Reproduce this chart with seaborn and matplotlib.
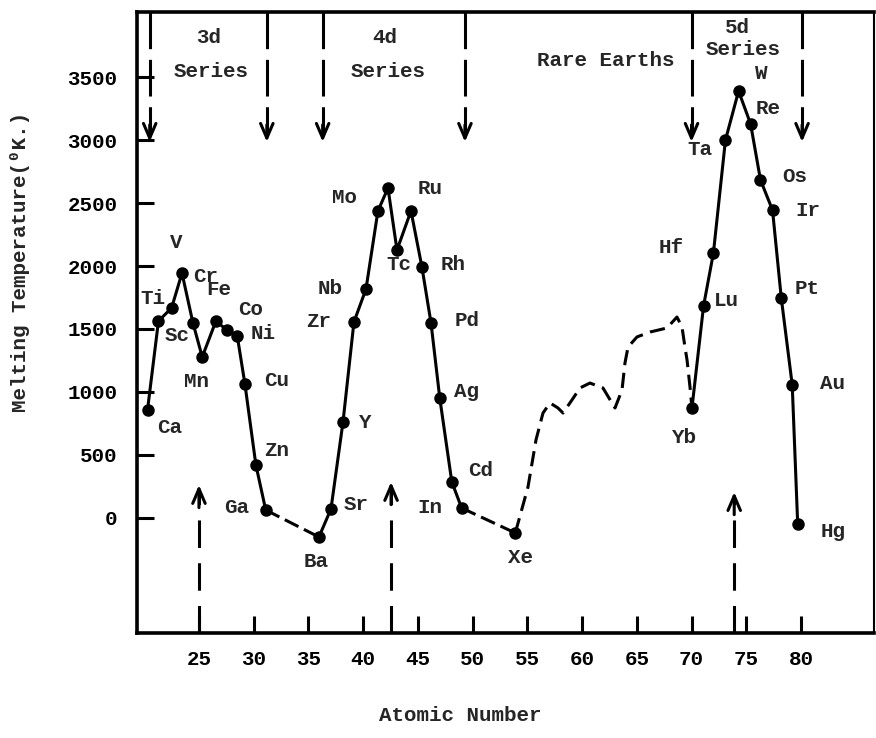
import matplotlib
matplotlib.use("Agg")
import matplotlib.pyplot as plt
import seaborn as sns
import pandas as pd

# 3d series, Ca .. Ga
d3_x = [20.3, 21.3, 22.5, 23.45, 24.45, 25.3, 26.55, 27.55, 28.5, 29.2, 30.2, 31.1]
d3_y = [857, 1563, 1667, 1944, 1548, 1278, 1563, 1492, 1444, 1063, 421, 63]

# Ba, then 4d series Sr .. In
d4_x = [35.96, 37.06, 38.16, 39.16, 40.26, 41.35, 42.27, 43.09, 44.37, 45.37, 46.2, 47.0, 48.1, 49.0]
d4_y = [-151, 71, 762, 1556, 1817, 2437, 2619, 2127, 2437, 1992, 1548, 952, 286, 79]

# Xe
xe_x = [53.9]
xe_y = [-119]

# rare earths (dashed trace, Xe .. Yb)
re_x = [53.9, 55.06, 55.79, 56.43, 57.07, 57.8, 58.26, 59.08, 59.81, 60.72, 61.91, 62.73,
        63.01, 63.65, 63.92, 64.2, 65.02, 66.21, 67.76, 68.67, 69.13, 69.4, 69.59, 69.86, 70.04]
re_y = [-119, 246, 619, 833, 913, 873, 833, 937, 1032, 1071, 1032, 913,
        873, 1016, 1230, 1357, 1437, 1476, 1508, 1595, 1516, 1357, 1254, 1040, 873]

# 5d series, Yb .. Hg
d5_x = [70.04, 71.1, 72.0, 73.1, 74.3, 75.4, 76.3, 77.4, 78.2, 79.2, 79.7]
d5_y = [873, 1683, 2103, 3000, 3389, 3127, 2683, 2444, 1746, 1056, -48]

# element labels as written on the chart
labels = ["Ca", "Ti", "Sc", "V", "Cr", "Fe", "Co", "Ni", "Mn", "Cu", "Zn", "Ga",
          "Ba", "Sr", "Y", "Zr", "Nb", "Mo", "Tc", "Ru", "Rh", "Pd", "Ag", "Cd", "In", "Xe",
          "Yb", "Lu", "Hf", "Ta", "W", "Re", "Os", "Ir", "Pt", "Au", "Hg"]
label_x = [22.3, 20.8, 23.0, 22.9, 25.6, 26.8, 29.7, 30.9, 24.8, 32.1, 32.1, 28.4,
           35.7, 39.4, 40.2, 35.9, 37.0, 38.3, 43.3, 46.1, 48.2, 49.5, 49.4, 50.7, 46.1, 54.4,
           69.4, 73.2, 68.1, 70.8, 76.4, 77.0, 79.4, 80.6, 80.6, 82.9, 82.9]
label_y = [722, 1746, 1452, 2183, 1913, 1810, 1651, 1468, 1087, 1095, 532, 87,
           -349, 103, 754, 1556, 1825, 2540, 2008, 2619, 2008, 1571, 1000, 373, 87, -310,
           635, 1730, 2150, 2921, 3532, 3254, 2714, 2437, 1825, 1071, -111]

# series boundary arrows
down_arrows = [20.5, 31.2, 36.3, 49.3, 70.0, 80.1]
up_arrows = [25.0, 42.55, 73.9]
up_tips = [262, 286, 206]

series_text = ["3d", "Series", "4d", "Series", "Rare Earths", "5d", "Series"]
series_x = [25.9, 26.1, 42.0, 42.3, 62.2, 74.2, 74.7]
series_y = [3817, 3540, 3817, 3540, 3635, 3890, 3715]

xticks = list(range(25, 81, 5))
yticks = list(range(0, 3501, 500))

sns.set_theme(style="ticks")
mono = ["Liberation Mono", "DejaVu Sans Mono"]
plt.rcParams["font.family"] = mono
plt.rcParams["font.size"] = 15
plt.rcParams["font.weight"] = "bold"

fig = plt.figure(figsize=(8.76, 7.38), dpi=100)
ax = fig.add_axes([0.1564, 0.1423, 0.8413, 0.8414])

lw = 2.2
ms = 9
solid = dict(color="black", linewidth=lw, sort=False, estimator=None)

sns.lineplot(x=d3_x, y=d3_y, ax=ax, **solid)
sns.lineplot(x=d4_x, y=d4_y, ax=ax, **solid)
sns.lineplot(x=d5_x, y=d5_y, ax=ax, **solid)
sns.lineplot(x=[d3_x[-1], d4_x[0]], y=[d3_y[-1], d4_y[0]], ax=ax,
             color="black", linewidth=lw, sort=False, estimator=None,
             linestyle=(0, (5, 2)))
sns.lineplot(x=[d4_x[-1], xe_x[0]], y=[d4_y[-1], xe_y[0]], ax=ax,
             color="black", linewidth=lw, sort=False, estimator=None,
             linestyle=(0, (5, 2)))
sns.lineplot(x=re_x, y=re_y, ax=ax, color="black", linewidth=lw, sort=False,
             estimator=None, linestyle=(0, (5, 2.5)))

pts = pd.DataFrame({"x": d3_x + d4_x + xe_x + d5_x, "y": d3_y + d4_y + xe_y + d5_y})
sns.scatterplot(data=pts, x="x", y="y", ax=ax, color="black", s=ms ** 2,
                edgecolor="black", linewidth=0, zorder=5)

for t, x, y in zip(labels, label_x, label_y):
    ax.text(x, y, t, ha="center", va="center", fontsize=15)

for t, x, y in zip(series_text, series_x, series_y):
    ax.text(x, y, t, ha="center", va="center", fontsize=15)

# arrows: dashed shafts with open heads
top, bottom = 4016, -913
for x in down_arrows:
    ax.plot([x, x], [top, 3060], color="black", linewidth=lw, linestyle=(0, (12, 3.5)))
    ax.annotate("", xy=(x, 2985), xytext=(x, 3120),
                arrowprops=dict(arrowstyle="->,head_length=0.7,head_width=0.3",
                                color="black", lw=lw, shrinkA=0, shrinkB=0))
for x, tip in zip(up_arrows, up_tips):
    ax.plot([x, x], [bottom, tip - 60], color="black", linewidth=lw, linestyle=(0, (9, 5)))
    ax.annotate("", xy=(x, tip), xytext=(x, tip - 180),
                arrowprops=dict(arrowstyle="->,head_length=0.7,head_width=0.3",
                                color="black", lw=lw, shrinkA=0, shrinkB=0))

ax.set_xlim(19.34, 86.67)
ax.set_ylim(bottom, top)
ax.set_xticks(xticks)
ax.set_yticks(yticks)
ax.tick_params(axis="both", direction="in", length=12, width=2.2, labelsize=15, colors="black")
ax.tick_params(axis="x", pad=12)
ax.tick_params(axis="y", pad=14)

for side in ["left", "bottom", "top", "right"]:
    ax.spines[side].set_visible(True)
    ax.spines[side].set_linewidth(2.6)
    ax.spines[side].set_color("black")
ax.spines["right"].set_linewidth(1.5)

ax.set_xlabel("Atomic Number", fontsize=15, fontweight="bold")
ax.set_ylabel("Melting Temperature(\u2070K.)", fontsize=15, fontweight="bold")
ax.xaxis.set_label_coords(0.438, -0.1175)
ax.yaxis.set_label_coords(-0.145, 0.597)

fig.savefig("out.png", dpi=100)
